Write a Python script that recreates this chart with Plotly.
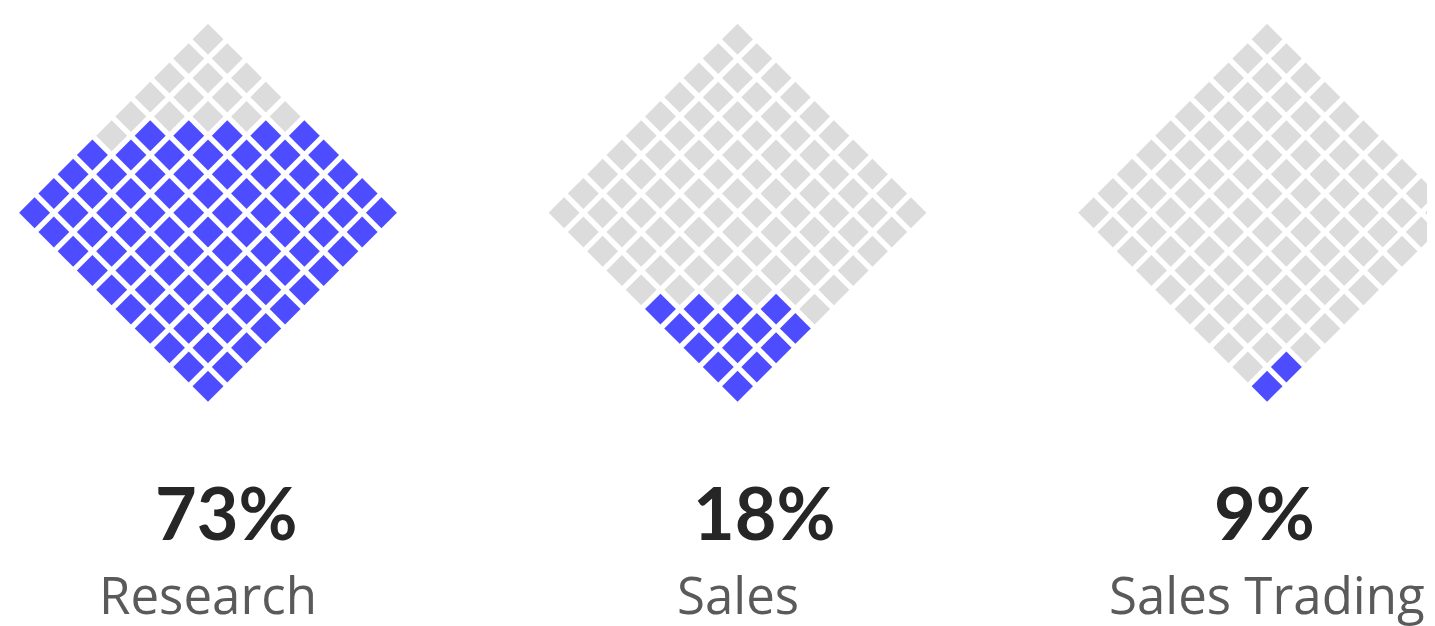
import plotly.graph_objects as go

# values
names = ["Research", "Sales", "Sales Trading"]
pct_labels = ["73%", "18%", "9%"]
filled_cells = [84, 14, 2]   # blue squares shown in each 10x10 diamond

BLUE = "#4d4dff"
GREY = "#dcdcdc"

# page body keeps an 8px margin, so the figure is drawn 8px smaller
PAD = 8
W, H = 1435 - PAD, 626 - PAD
unit = 19.27            # px per grid half-step
gap = 27.48             # distance between diamond centres, grid units
x0 = -(208 - PAD) / unit
y_top = (386.2 - PAD) / unit
pct_shift = [18, 27, -3]


def diamond_cells(n_fill):
    # rows counted from the bottom tip, snake order inside each row
    xs, ys, cols = [], [], []
    k = 0
    for row in range(19):
        cells = [(c - r, r + c) for r in range(10) for c in range(10) if r + c == row]
        cells.sort()
        if row % 2 == 1:
            cells = cells[::-1]
        for x, y in cells:
            xs.append(x)
            ys.append(y)
            cols.append(BLUE if k < n_fill else GREY)
            k += 1
    return xs, ys, cols


fig = go.Figure()
for i, n in enumerate(filled_cells):
    xs, ys, cols = diamond_cells(n)
    fig.add_trace(go.Scatter(
        x=[x + i * gap for x in xs], y=ys, mode="markers",
        marker=dict(symbol="diamond", size=23.8, color=cols, line=dict(width=0)),
        hoverinfo="skip", showlegend=False))

    fig.add_annotation(x=i * gap, y=1 - (512 - PAD) / H, xref="x", yref="paper",
                       text="<b>%s</b>" % pct_labels[i], showarrow=False,
                       xshift=pct_shift[i], yanchor="middle",
                       font=dict(family="Lato", size=72, color="#262626"))
    fig.add_annotation(x=i * gap, y=1 - (594 - PAD) / H, xref="x", yref="paper",
                       text=names[i], showarrow=False, yanchor="middle",
                       font=dict(family="Open Sans", size=51, color="#5a5a5a"))

fig.update_xaxes(range=[x0, x0 + W / unit], visible=False, fixedrange=True)
fig.update_yaxes(range=[y_top - H / unit, y_top], visible=False, fixedrange=True)
fig.update_layout(width=W, height=H, margin=dict(l=0, r=0, t=0, b=0),
                  paper_bgcolor="white", plot_bgcolor="white")

fig.write_html("out.html")
